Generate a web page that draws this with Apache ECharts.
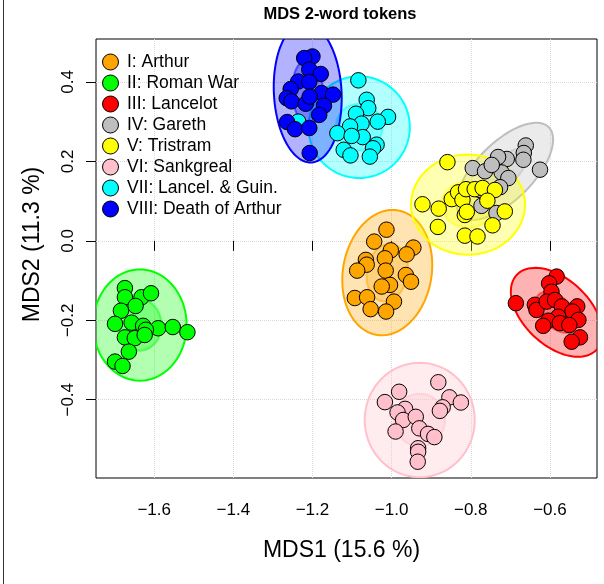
<!DOCTYPE html>
<html>
<head>
<meta charset="utf-8">
<script src="https://cdn.jsdelivr.net/npm/echarts@6/dist/echarts.min.js"></script>
<style>
html,body{margin:0;padding:0;background:#fff}
#chart{width:604px;height:584px}
</style>
</head>
<body>
<div id="chart"></div>
<script>
// tales of the Morte Darthur, MDS on 2-word tokens
var groups = ['I: Arthur', 'II: Roman War', 'III: Lancelot', 'IV: Gareth',
              'V: Tristram', 'VI: Sankgreal', 'VII: Lancel. & Guin.', 'VIII: Death of Arthur'];
var colors = ['#FFA500', '#00FF00', '#FF0000', '#BEBEBE', '#FFFF00', '#FFC0CB', '#00FFFF', '#0000FF'];

var xTicks = [-1.6, -1.4, -1.2, -1.0, -0.8, -0.6];
var yTicks = [-0.4, -0.2, 0.0, 0.2, 0.4];

var arthur = [[-1.013,0.028],[-1.044,-0.002],[-1.002,-0.024],[-0.945,-0.017],[-0.962,-0.034],
  [-1.017,-0.044],[-1.065,-0.048],[-1.063,-0.060],[-1.087,-0.075],[-1.015,-0.075],[-0.964,-0.086],
  [-0.951,-0.103],[-1.004,-0.111],[-1.025,-0.115],[-1.093,-0.144],[-1.062,-0.142],[-0.994,-0.153],
  [-1.053,-0.172],[-1.014,-0.178]];
var romanWar = [[-1.674,-0.119],[-1.632,-0.142],[-1.608,-0.132],[-1.674,-0.142],[-1.647,-0.164],
  [-1.684,-0.176],[-1.699,-0.209],[-1.657,-0.206],[-1.628,-0.214],[-1.590,-0.220],[-1.553,-0.217],
  [-1.516,-0.230],[-1.621,-0.224],[-1.674,-0.243],[-1.649,-0.245],[-1.624,-0.237],[-1.664,-0.279],
  [-1.699,-0.304],[-1.680,-0.315]];
var lancelot = [[-0.686,-0.157],[-0.583,-0.090],[-0.602,-0.107],[-0.596,-0.128],[-0.638,-0.161],
  [-0.634,-0.174],[-0.608,-0.153],[-0.587,-0.149],[-0.570,-0.165],[-0.531,-0.165],[-0.543,-0.178],
  [-0.579,-0.191],[-0.604,-0.201],[-0.617,-0.214],[-0.575,-0.207],[-0.528,-0.199],[-0.551,-0.212],
  [-0.524,-0.243],[-0.545,-0.254]];
var gareth = [[-0.661,0.240],[-0.666,0.221],[-0.667,0.204],[-0.709,0.206],[-0.731,0.211],
  [-0.625,0.179],[-0.795,0.183],[-0.764,0.175],[-0.722,0.172],[-0.705,0.158],[-0.747,0.191],
  [-0.773,0.088],[-0.735,0.070],[-0.777,0.128],[-0.726,0.135]];
var tristram = [[-0.859,0.198],[-0.922,0.092],[-0.881,0.081],[-0.848,0.105],[-0.832,0.122],
  [-0.821,0.103],[-0.812,0.130],[-0.790,0.130],[-0.770,0.133],[-0.739,0.128],[-0.758,0.101],
  [-0.815,0.065],[-0.810,0.073],[-0.714,0.074],[-0.745,0.039],[-0.883,0.035],[-0.815,0.013],
  [-0.783,0.011]];
var sankgreal = [[-0.882,-0.356],[-0.981,-0.380],[-1.017,-0.406],[-0.854,-0.394],[-0.825,-0.407],
  [-0.871,-0.419],[-0.878,-0.428],[-0.966,-0.423],[-0.985,-0.432],[-0.971,-0.451],[-0.939,-0.443],
  [-0.930,-0.472],[-0.990,-0.480],[-0.908,-0.486],[-0.892,-0.494],[-0.933,-0.522],[-0.933,-0.531],
  [-0.934,-0.556]];
var lancelGuin = [[-1.084,0.404],[-1.063,0.355],[-1.059,0.334],[-1.090,0.320],[-1.009,0.312],
  [-1.035,0.300],[-1.076,0.295],[-1.105,0.288],[-1.137,0.271],[-1.073,0.261],[-1.101,0.264],
  [-1.038,0.242],[-1.047,0.233],[-1.121,0.229],[-1.104,0.215],[-1.055,0.212],[-1.236,0.300]];
var deathOfArthur = [[-1.200,0.464],[-1.221,0.460],[-1.208,0.431],[-1.179,0.420],[-1.236,0.401],
  [-1.208,0.400],[-1.255,0.382],[-1.177,0.372],[-1.148,0.368],[-1.265,0.359],[-1.253,0.351],
  [-1.217,0.345],[-1.207,0.363],[-1.171,0.340],[-1.183,0.317],[-1.264,0.299],[-1.244,0.281],
  [-1.208,0.284],[-1.207,0.221]];
var points = [arthur, romanWar, lancelot, gareth, tristram, sankgreal, lancelGuin, deathOfArthur];

// ellipse per tale: centre x, centre y, radius 1, radius 2, rotation (deg)
var ellipses = [
  [-1.011, -0.080, 0.159, 0.112, 80],
  [-1.636, -0.212, 0.118, 0.140, 0],
  [-0.583, -0.180, 0.138, 0.083, -43],
  [-0.714, 0.175, 0.157, 0.072, 45],
  [-0.807, 0.091, 0.144, 0.126, 0],
  [-0.929, -0.451, 0.139, 0.144, 0],
  [-1.082, 0.286, 0.128, 0.128, 0],
  [-1.212, 0.373, 0.0855, 0.176, 3]
];
var innerScale = 0.46;

function fmt(v) {
  return v.toFixed(1).replace('-', '\u2212');
}

function rgba(hex, a) {
  var n = parseInt(hex.slice(1), 16);
  return 'rgba(' + (n >> 16) + ',' + ((n >> 8) & 255) + ',' + (n & 255) + ',' + a + ')';
}

function makeEllipse(col) {
  return function (params, api) {
    var cx = api.value(0), cy = api.value(1), rx = api.value(2), ry = api.value(3);
    var ang = api.value(4) * Math.PI / 180;
    function ring(k) {
      var pts = [];
      for (var i = 0; i < 96; i++) {
        var t = i / 96 * Math.PI * 2;
        var dx = k * rx * Math.cos(t), dy = k * ry * Math.sin(t);
        pts.push(api.coord([cx + dx * Math.cos(ang) - dy * Math.sin(ang),
                            cy + dx * Math.sin(ang) + dy * Math.cos(ang)]));
      }
      return pts;
    }
    return {
      type: 'group',
      children: [
        {type: 'polygon', shape: {points: ring(1)},
         style: {fill: rgba(col, 0.3), stroke: col, lineWidth: 2}},
        {type: 'polygon', shape: {points: ring(innerScale)},
         style: {fill: rgba(col, 0.3), stroke: rgba(col, 0.5), lineWidth: 2}}
      ]
    };
  };
}

var font = 'Liberation Sans, Arial, Helvetica, sans-serif';
var series = [];
for (var i = 0; i < groups.length; i++) {
  series.push({
    type: 'custom',
    name: groups[i] + ' ellipse',
    renderItem: makeEllipse(colors[i]),
    data: [ellipses[i]],
    encode: {x: 0, y: 1},
    clip: true,
    silent: true
  });
  series.push({
    type: 'scatter',
    name: groups[i],
    data: points[i],
    symbolSize: 15.5,
    itemStyle: {color: colors[i], borderColor: '#000', borderWidth: 1, opacity: 1}
  });
}

var chart = echarts.init(document.getElementById('chart'));
chart.setOption({
  animation: false,
  backgroundColor: '#fff',
  title: {
    text: 'MDS 2-word tokens',
    left: 340, top: 6, padding: 0, textAlign: 'center',
    textStyle: {fontFamily: font, fontSize: 16.5, fontWeight: 'bold', color: '#000'}
  },
  legend: {
    data: groups,
    orient: 'vertical',
    left: 102, top: 53,
    icon: 'circle',
    itemWidth: 23, itemHeight: 16, itemGap: 3,
    padding: 0,
    itemStyle: {borderColor: '#000', borderWidth: 1},
    textStyle: {fontFamily: font, fontSize: 17.5, color: '#000', lineHeight: 16}
  },
  grid: {left: 96, top: 39, right: 7, bottom: 106, show: true, borderColor: '#000', borderWidth: 1},
  xAxis: {
    type: 'value', min: -1.747, max: -0.481,
    name: 'MDS1 (15.6 %)', nameLocation: 'middle', nameGap: 61,
    nameTextStyle: {fontFamily: font, fontSize: 23, color: '#000', padding: [0, 10, 0, 0]},
    axisLine: {show: false},
    axisTick: {show: true, inside: false, length: 10, customValues: xTicks, lineStyle: {color: '#000'}},
    axisLabel: {customValues: xTicks, formatter: fmt, margin: 24, fontFamily: font, fontSize: 17, color: '#000'},
    splitLine: {show: true, lineStyle: {color: '#d9d9d9', type: 'dotted'}}
  },
  yAxis: {
    type: 'value', min: -0.597, max: 0.508,
    name: 'MDS2 (11.3 %)', nameLocation: 'middle', nameGap: 52,
    nameTextStyle: {fontFamily: font, fontSize: 23, color: '#000', padding: [0, 0, 0, 28]},
    axisLine: {show: false},
    axisTick: {show: true, inside: false, length: 10, customValues: yTicks, lineStyle: {color: '#000'}},
    axisLabel: {customValues: yTicks, formatter: fmt, rotate: 90, margin: 19, fontFamily: font, fontSize: 17, color: '#000'},
    splitLine: {show: true, lineStyle: {color: '#d9d9d9', type: 'dotted'}}
  },
  graphic: [{
    type: 'line', silent: true,
    shape: {x1: 3.5, y1: 0, x2: 3.5, y2: 584},
    style: {stroke: '#333', lineWidth: 1}
  }],
  series: series
});
</script>
</body>
</html>
